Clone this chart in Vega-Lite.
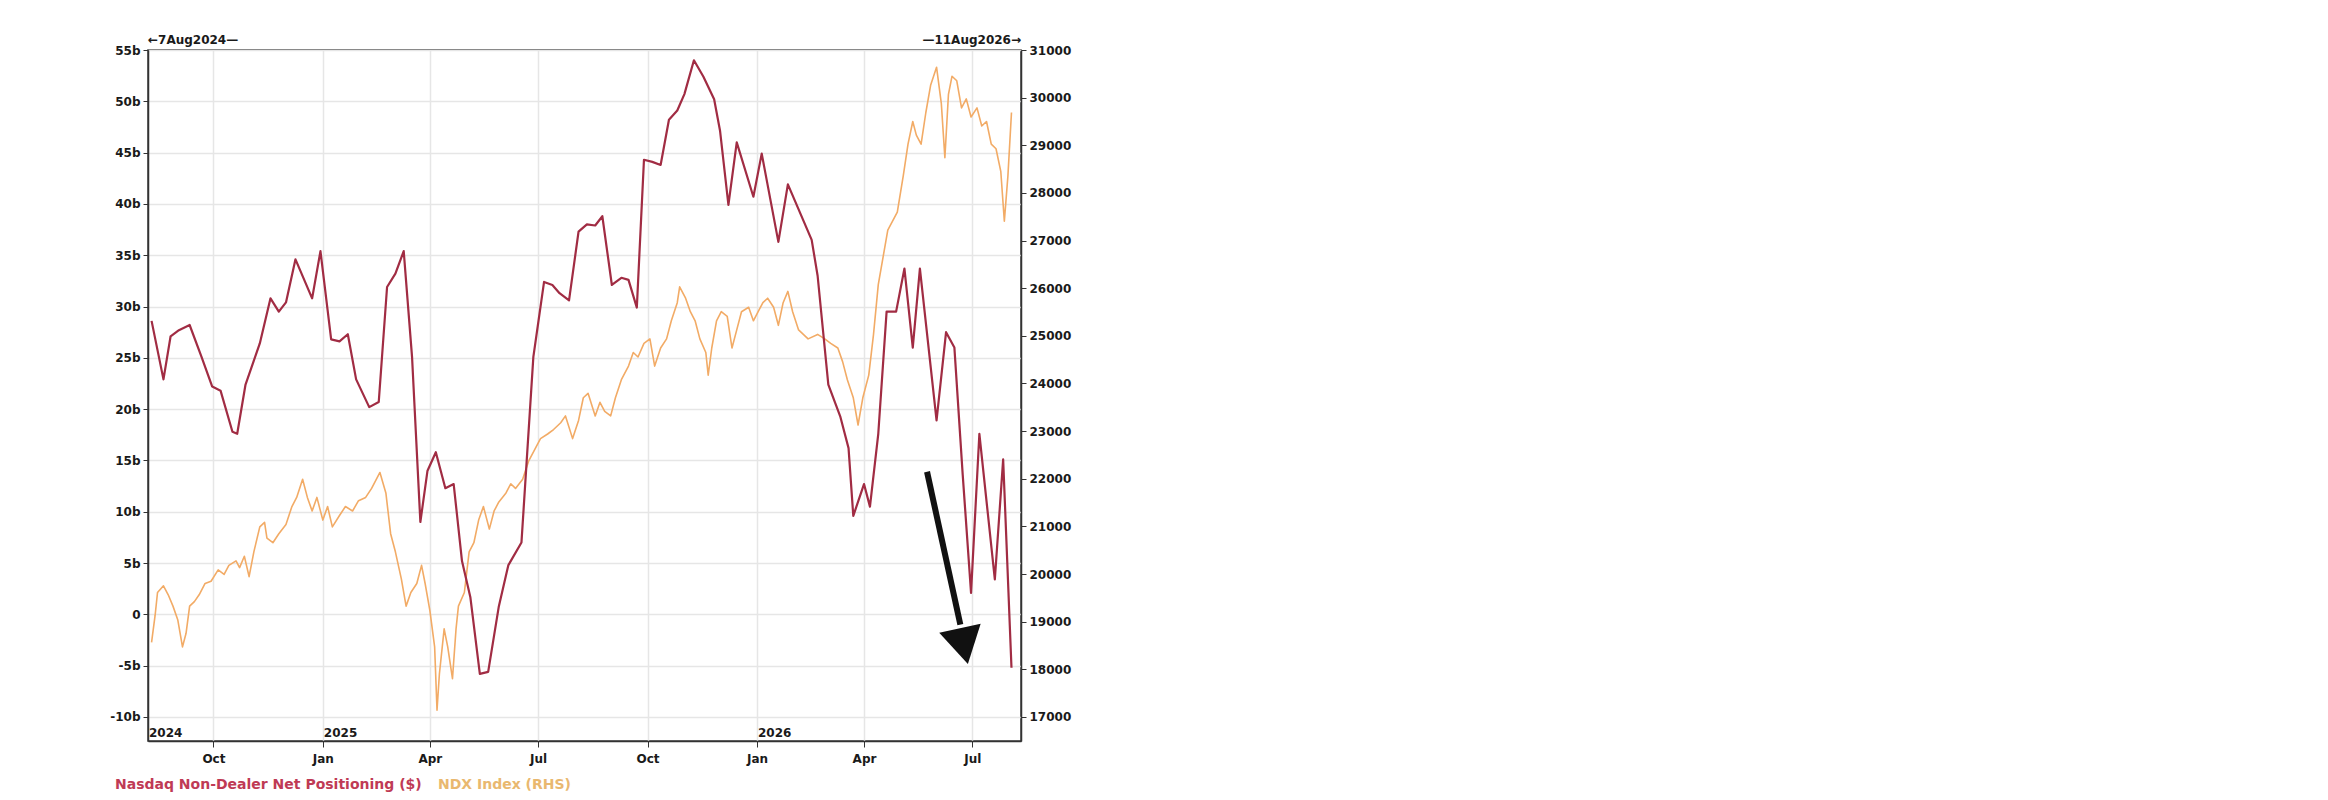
{
  "$schema": "https://vega.github.io/schema/vega-lite/v6.json",
  "width": 873,
  "height": 691,
  "autosize": {"type": "none"},
  "padding": {"left": 148, "top": 50, "right": 1307, "bottom": 59},
  "background": "white",
  "config": {
    "font": "DejaVu Sans",
    "view": {"stroke": "#3a3a3a", "strokeWidth": 1.5},
    "axis": {"labelFont": "DejaVu Sans", "labelFontSize": 12, "labelFontWeight": "bold", "labelColor": "#1a1a1a", "tickColor": "#333333", "domainColor": "#333333", "domainWidth": 1.5, "gridColor": "#e6e6e6", "gridWidth": 1.5, "tickSize": 5, "title": null}
  },
  "datasets": {
    "pos": [
      {"date": "2024-08-10", "value": 28.6}, {"date": "2024-08-20", "value": 22.9}, {"date": "2024-08-26", "value": 27.1}, {"date": "2024-09-02", "value": 27.7},
      {"date": "2024-09-11", "value": 28.2}, {"date": "2024-09-21", "value": 25.1}, {"date": "2024-09-30", "value": 22.2}, {"date": "2024-10-07", "value": 21.8},
      {"date": "2024-10-17", "value": 17.8}, {"date": "2024-10-21", "value": 17.6}, {"date": "2024-10-28", "value": 22.4}, {"date": "2024-11-09", "value": 26.4},
      {"date": "2024-11-18", "value": 30.8}, {"date": "2024-11-25", "value": 29.5}, {"date": "2024-12-01", "value": 30.4}, {"date": "2024-12-09", "value": 34.6},
      {"date": "2024-12-23", "value": 30.8}, {"date": "2024-12-30", "value": 35.4}, {"date": "2025-01-08", "value": 26.8}, {"date": "2025-01-15", "value": 26.6},
      {"date": "2025-01-22", "value": 27.3}, {"date": "2025-01-29", "value": 22.9}, {"date": "2025-02-09", "value": 20.2}, {"date": "2025-02-17", "value": 20.7},
      {"date": "2025-02-24", "value": 31.9}, {"date": "2025-03-03", "value": 33.2}, {"date": "2025-03-10", "value": 35.4}, {"date": "2025-03-17", "value": 25.1},
      {"date": "2025-03-24", "value": 9.0}, {"date": "2025-03-30", "value": 14.0}, {"date": "2025-04-06", "value": 15.8}, {"date": "2025-04-14", "value": 12.3},
      {"date": "2025-04-21", "value": 12.7}, {"date": "2025-04-28", "value": 5.2}, {"date": "2025-05-05", "value": 1.7}, {"date": "2025-05-13", "value": -5.8},
      {"date": "2025-05-20", "value": -5.6}, {"date": "2025-05-29", "value": 0.8}, {"date": "2025-06-06", "value": 4.8}, {"date": "2025-06-17", "value": 7.0},
      {"date": "2025-06-27", "value": 25.1}, {"date": "2025-07-06", "value": 32.4}, {"date": "2025-07-13", "value": 32.1}, {"date": "2025-07-19", "value": 31.3},
      {"date": "2025-07-27", "value": 30.6}, {"date": "2025-08-04", "value": 37.3}, {"date": "2025-08-11", "value": 38.0}, {"date": "2025-08-18", "value": 37.9},
      {"date": "2025-08-24", "value": 38.8}, {"date": "2025-09-01", "value": 32.1}, {"date": "2025-09-09", "value": 32.8}, {"date": "2025-09-15", "value": 32.6},
      {"date": "2025-09-22", "value": 29.9}, {"date": "2025-09-28", "value": 44.3}, {"date": "2025-10-05", "value": 44.1}, {"date": "2025-10-12", "value": 43.8},
      {"date": "2025-10-19", "value": 48.2}, {"date": "2025-10-26", "value": 49.1}, {"date": "2025-11-01", "value": 50.7}, {"date": "2025-11-09", "value": 54.0},
      {"date": "2025-11-17", "value": 52.4}, {"date": "2025-11-26", "value": 50.2}, {"date": "2025-12-01", "value": 47.1}, {"date": "2025-12-08", "value": 39.9},
      {"date": "2025-12-15", "value": 46.0}, {"date": "2025-12-29", "value": 40.7}, {"date": "2026-01-05", "value": 44.9}, {"date": "2026-01-19", "value": 36.3},
      {"date": "2026-01-27", "value": 41.9}, {"date": "2026-02-16", "value": 36.5}, {"date": "2026-02-21", "value": 33.0}, {"date": "2026-03-02", "value": 22.4},
      {"date": "2026-03-12", "value": 19.3}, {"date": "2026-03-19", "value": 16.2}, {"date": "2026-03-23", "value": 9.6}, {"date": "2026-04-01", "value": 12.7},
      {"date": "2026-04-06", "value": 10.5}, {"date": "2026-04-13", "value": 17.6}, {"date": "2026-04-20", "value": 29.5}, {"date": "2026-04-28", "value": 29.5},
      {"date": "2026-05-05", "value": 33.7}, {"date": "2026-05-12", "value": 26.0}, {"date": "2026-05-18", "value": 33.7}, {"date": "2026-06-01", "value": 18.9},
      {"date": "2026-06-09", "value": 27.5}, {"date": "2026-06-16", "value": 26.0}, {"date": "2026-06-23", "value": 13.6}, {"date": "2026-06-30", "value": 2.1},
      {"date": "2026-07-07", "value": 17.6}, {"date": "2026-07-20", "value": 3.4}, {"date": "2026-07-27", "value": 15.1}, {"date": "2026-08-03", "value": -5.2}
    ],
    "ndx": [
      {"date": "2024-08-10", "value": 18565}, {"date": "2024-08-13", "value": 19136}, {"date": "2024-08-15", "value": 19613}, {"date": "2024-08-20", "value": 19753},
      {"date": "2024-08-24", "value": 19565}, {"date": "2024-08-28", "value": 19327}, {"date": "2024-09-01", "value": 19042}, {"date": "2024-09-05", "value": 18471},
      {"date": "2024-09-08", "value": 18757}, {"date": "2024-09-11", "value": 19327}, {"date": "2024-09-15", "value": 19422}, {"date": "2024-09-19", "value": 19565},
      {"date": "2024-09-24", "value": 19802}, {"date": "2024-09-29", "value": 19850}, {"date": "2024-10-05", "value": 20087}, {"date": "2024-10-10", "value": 19993},
      {"date": "2024-10-14", "value": 20182}, {"date": "2024-10-20", "value": 20278}, {"date": "2024-10-23", "value": 20136}, {"date": "2024-10-27", "value": 20373},
      {"date": "2024-10-31", "value": 19945}, {"date": "2024-11-04", "value": 20467}, {"date": "2024-11-09", "value": 20990}, {"date": "2024-11-13", "value": 21086},
      {"date": "2024-11-15", "value": 20753}, {"date": "2024-11-20", "value": 20658}, {"date": "2024-11-25", "value": 20847}, {"date": "2024-12-01", "value": 21038},
      {"date": "2024-12-06", "value": 21418}, {"date": "2024-12-10", "value": 21609}, {"date": "2024-12-15", "value": 21989}, {"date": "2024-12-19", "value": 21609},
      {"date": "2024-12-23", "value": 21324}, {"date": "2024-12-27", "value": 21609}, {"date": "2025-01-01", "value": 21133}, {"date": "2025-01-05", "value": 21418},
      {"date": "2025-01-09", "value": 20990}, {"date": "2025-01-15", "value": 21229}, {"date": "2025-01-20", "value": 21418}, {"date": "2025-01-26", "value": 21324},
      {"date": "2025-01-31", "value": 21540}, {"date": "2025-02-06", "value": 21609}, {"date": "2025-02-11", "value": 21798}, {"date": "2025-02-18", "value": 22132},
      {"date": "2025-02-23", "value": 21703}, {"date": "2025-02-27", "value": 20847}, {"date": "2025-03-03", "value": 20467}, {"date": "2025-03-08", "value": 19898},
      {"date": "2025-03-12", "value": 19327}, {"date": "2025-03-16", "value": 19613}, {"date": "2025-03-21", "value": 19802}, {"date": "2025-03-25", "value": 20182},
      {"date": "2025-03-28", "value": 19802}, {"date": "2025-04-01", "value": 19233}, {"date": "2025-04-05", "value": 18471}, {"date": "2025-04-07", "value": 17140},
      {"date": "2025-04-09", "value": 17902}, {"date": "2025-04-13", "value": 18851}, {"date": "2025-04-16", "value": 18471}, {"date": "2025-04-20", "value": 17806},
      {"date": "2025-04-23", "value": 18851}, {"date": "2025-04-25", "value": 19327}, {"date": "2025-04-30", "value": 19613}, {"date": "2025-05-04", "value": 20467},
      {"date": "2025-05-08", "value": 20658}, {"date": "2025-05-12", "value": 21133}, {"date": "2025-05-16", "value": 21418}, {"date": "2025-05-21", "value": 20944},
      {"date": "2025-05-25", "value": 21324}, {"date": "2025-05-29", "value": 21515}, {"date": "2025-06-04", "value": 21703}, {"date": "2025-06-08", "value": 21895},
      {"date": "2025-06-12", "value": 21798}, {"date": "2025-06-18", "value": 21989}, {"date": "2025-06-23", "value": 22369}, {"date": "2025-06-29", "value": 22654},
      {"date": "2025-07-03", "value": 22843}, {"date": "2025-07-09", "value": 22940}, {"date": "2025-07-14", "value": 23034}, {"date": "2025-07-20", "value": 23177},
      {"date": "2025-07-24", "value": 23320}, {"date": "2025-07-30", "value": 22843}, {"date": "2025-08-04", "value": 23225}, {"date": "2025-08-08", "value": 23700},
      {"date": "2025-08-12", "value": 23794}, {"date": "2025-08-18", "value": 23320}, {"date": "2025-08-22", "value": 23605}, {"date": "2025-08-26", "value": 23414},
      {"date": "2025-08-31", "value": 23320}, {"date": "2025-09-04", "value": 23700}, {"date": "2025-09-09", "value": 24080}, {"date": "2025-09-15", "value": 24365},
      {"date": "2025-09-19", "value": 24650}, {"date": "2025-09-23", "value": 24556}, {"date": "2025-09-28", "value": 24842}, {"date": "2025-10-03", "value": 24936},
      {"date": "2025-10-07", "value": 24365}, {"date": "2025-10-12", "value": 24745}, {"date": "2025-10-17", "value": 24936}, {"date": "2025-10-21", "value": 25316},
      {"date": "2025-10-26", "value": 25696}, {"date": "2025-10-28", "value": 26030}, {"date": "2025-11-02", "value": 25790}, {"date": "2025-11-06", "value": 25507},
      {"date": "2025-11-10", "value": 25316}, {"date": "2025-11-14", "value": 24936}, {"date": "2025-11-19", "value": 24650}, {"date": "2025-11-21", "value": 24176},
      {"date": "2025-11-24", "value": 24745}, {"date": "2025-11-28", "value": 25316}, {"date": "2025-12-02", "value": 25507}, {"date": "2025-12-07", "value": 25410},
      {"date": "2025-12-11", "value": 24745}, {"date": "2025-12-15", "value": 25125}, {"date": "2025-12-19", "value": 25507}, {"date": "2025-12-25", "value": 25601},
      {"date": "2025-12-29", "value": 25316}, {"date": "2026-01-02", "value": 25507}, {"date": "2026-01-06", "value": 25696}, {"date": "2026-01-10", "value": 25790},
      {"date": "2026-01-15", "value": 25601}, {"date": "2026-01-19", "value": 25221}, {"date": "2026-01-23", "value": 25696}, {"date": "2026-01-27", "value": 25933},
      {"date": "2026-01-31", "value": 25507}, {"date": "2026-02-05", "value": 25125}, {"date": "2026-02-09", "value": 25030}, {"date": "2026-02-13", "value": 24936},
      {"date": "2026-02-21", "value": 25030}, {"date": "2026-02-27", "value": 24936}, {"date": "2026-03-04", "value": 24842}, {"date": "2026-03-10", "value": 24745},
      {"date": "2026-03-14", "value": 24459}, {"date": "2026-03-18", "value": 24080}, {"date": "2026-03-23", "value": 23700}, {"date": "2026-03-27", "value": 23129},
      {"date": "2026-03-31", "value": 23700}, {"date": "2026-04-05", "value": 24176}, {"date": "2026-04-09", "value": 25030}, {"date": "2026-04-13", "value": 26076},
      {"date": "2026-04-17", "value": 26647}, {"date": "2026-04-21", "value": 27218}, {"date": "2026-04-25", "value": 27406}, {"date": "2026-04-29", "value": 27597},
      {"date": "2026-05-04", "value": 28357}, {"date": "2026-05-08", "value": 29023}, {"date": "2026-05-12", "value": 29499}, {"date": "2026-05-15", "value": 29214},
      {"date": "2026-05-19", "value": 29023}, {"date": "2026-05-23", "value": 29688}, {"date": "2026-05-27", "value": 30259}, {"date": "2026-06-01", "value": 30639},
      {"date": "2026-06-05", "value": 29879}, {"date": "2026-06-08", "value": 28737}, {"date": "2026-06-11", "value": 30070}, {"date": "2026-06-14", "value": 30450},
      {"date": "2026-06-18", "value": 30354}, {"date": "2026-06-22", "value": 29785}, {"date": "2026-06-26", "value": 29974}, {"date": "2026-06-30", "value": 29594},
      {"date": "2026-07-05", "value": 29785}, {"date": "2026-07-09", "value": 29405}, {"date": "2026-07-13", "value": 29499}, {"date": "2026-07-17", "value": 29023},
      {"date": "2026-07-21", "value": 28928}, {"date": "2026-07-25", "value": 28454}, {"date": "2026-07-28", "value": 27406}, {"date": "2026-07-31", "value": 28357},
      {"date": "2026-08-03", "value": 29688}
    ],
    "years": [
      {"date": "2024-08-07", "label": "2024"},
      {"date": "2025-01-01", "label": "2025"},
      {"date": "2026-01-01", "label": "2026"}
    ],
    "startLabel": [{"date": "2024-08-07", "label": "←7Aug2024—"}],
    "endLabel": [{"date": "2026-08-11", "label": "—11Aug2026→"}],
    "arrow": [{"date": "2026-05-24", "date2": "2026-06-21", "value": 13.9, "value2": -1.0}],
    "arrowHead": [{"date": "2026-06-24", "value": -3.1}]
  },
  "encoding": {
    "x": {
      "field": "date",
      "type": "temporal",
      "scale": {"type": "utc", "domain": [{"year": 2024, "month": 8, "date": 7, "utc": true}, {"year": 2026, "month": 8, "date": 11, "utc": true}]},
      "axis": {
        "title": null,
        "grid": true,
        "values": [
          {"year": 2024, "month": 10, "date": 1, "utc": true},
          {"year": 2025, "month": 1, "date": 1, "utc": true},
          {"year": 2025, "month": 4, "date": 1, "utc": true},
          {"year": 2025, "month": 7, "date": 1, "utc": true},
          {"year": 2025, "month": 10, "date": 1, "utc": true},
          {"year": 2026, "month": 1, "date": 1, "utc": true},
          {"year": 2026, "month": 4, "date": 1, "utc": true},
          {"year": 2026, "month": 7, "date": 1, "utc": true}
        ],
        "labelExpr": "utcFormat(datum.value, '%b')",
        "labelPadding": 6,
        "tickSize": 6
      }
    }
  },
  "layer": [
    {
      "data": {"name": "ndx"},
      "mark": {"type": "line", "strokeWidth": 1.6, "strokeJoin": "round"},
      "encoding": {
        "y": {
          "field": "value", "type": "quantitative",
          "scale": {"domain": [16496, 31000], "nice": false, "zero": false},
          "axis": {"orient": "right", "title": null, "grid": false, "format": "d", "values": [17000, 18000, 19000, 20000, 21000, 22000, 23000, 24000, 25000, 26000, 27000, 28000, 29000, 30000, 31000], "labelPadding": 3}
        },
        "color": {"datum": "NDX Index (RHS)"}
      }
    },
    {
      "layer": [
        {
          "data": {"name": "pos"},
          "mark": {"type": "line", "strokeWidth": 2.2, "strokeJoin": "round"},
          "encoding": {
            "y": {
              "field": "value", "type": "quantitative",
              "scale": {"domain": [-12.34, 55], "nice": false, "zero": false},
              "axis": {"orient": "left", "title": null, "grid": true, "values": [-10, -5, 0, 5, 10, 15, 20, 25, 30, 35, 40, 45, 50, 55], "labelExpr": "datum.value == 0 ? '0' : datum.value + 'b'", "labelPadding": 3}
            },
            "color": {
              "datum": "Nasdaq Non-Dealer Net Positioning ($)",
              "scale": {"domain": ["Nasdaq Non-Dealer Net Positioning ($)", "NDX Index (RHS)"], "range": ["#a12c43", "#f2ab66"]},
              "legend": {
                "orient": "none", "legendX": -47, "legendY": 728, "direction": "horizontal", "title": null,
                "symbolSize": 0, "symbolStrokeWidth": 0, "symbolOpacity": 0, "labelOffset": 0, "columnPadding": 2,
                "labelFont": "DejaVu Sans", "labelFontSize": 14, "labelFontWeight": "bold", "labelLimit": 0,
                "encode": {"labels": {"update": {"fill": {"signal": "datum.label == 'NDX Index (RHS)' ? '#e9b86f' : '#bf3a55'"}}}}
              }
            }
          }
        },
        {
          "data": {"name": "years"},
          "mark": {"type": "text", "align": "left", "baseline": "bottom", "dx": 1, "dy": -1, "fontSize": 12, "fontWeight": "bold", "color": "#1a1a1a"},
          "encoding": {"y": {"datum": -12.34, "type": "quantitative"}, "text": {"field": "label"}}
        },
        {
          "data": {"name": "startLabel"},
          "mark": {"type": "text", "align": "left", "baseline": "bottom", "dy": -3, "fontSize": 12, "fontWeight": "bold", "color": "#1a1a1a"},
          "encoding": {"y": {"datum": 55, "type": "quantitative"}, "text": {"field": "label"}}
        },
        {
          "data": {"name": "endLabel"},
          "mark": {"type": "text", "align": "right", "baseline": "bottom", "dy": -3, "fontSize": 12, "fontWeight": "bold", "color": "#1a1a1a"},
          "encoding": {"y": {"datum": 55, "type": "quantitative"}, "text": {"field": "label"}}
        },
        {
          "data": {"name": "arrow"},
          "mark": {"type": "rule", "strokeWidth": 6, "color": "#111111"},
          "encoding": {"x2": {"field": "date2"}, "y": {"field": "value", "type": "quantitative"}, "y2": {"field": "value2"}}
        },
        {
          "data": {"name": "arrowHead"},
          "mark": {"type": "point", "shape": "triangle-down", "filled": true, "size": 1800, "angle": 347.5, "color": "#111111", "opacity": 1},
          "encoding": {"y": {"field": "value", "type": "quantitative"}}
        }
      ]
    }
  ],
  "resolve": {"scale": {"y": "independent"}}
}
